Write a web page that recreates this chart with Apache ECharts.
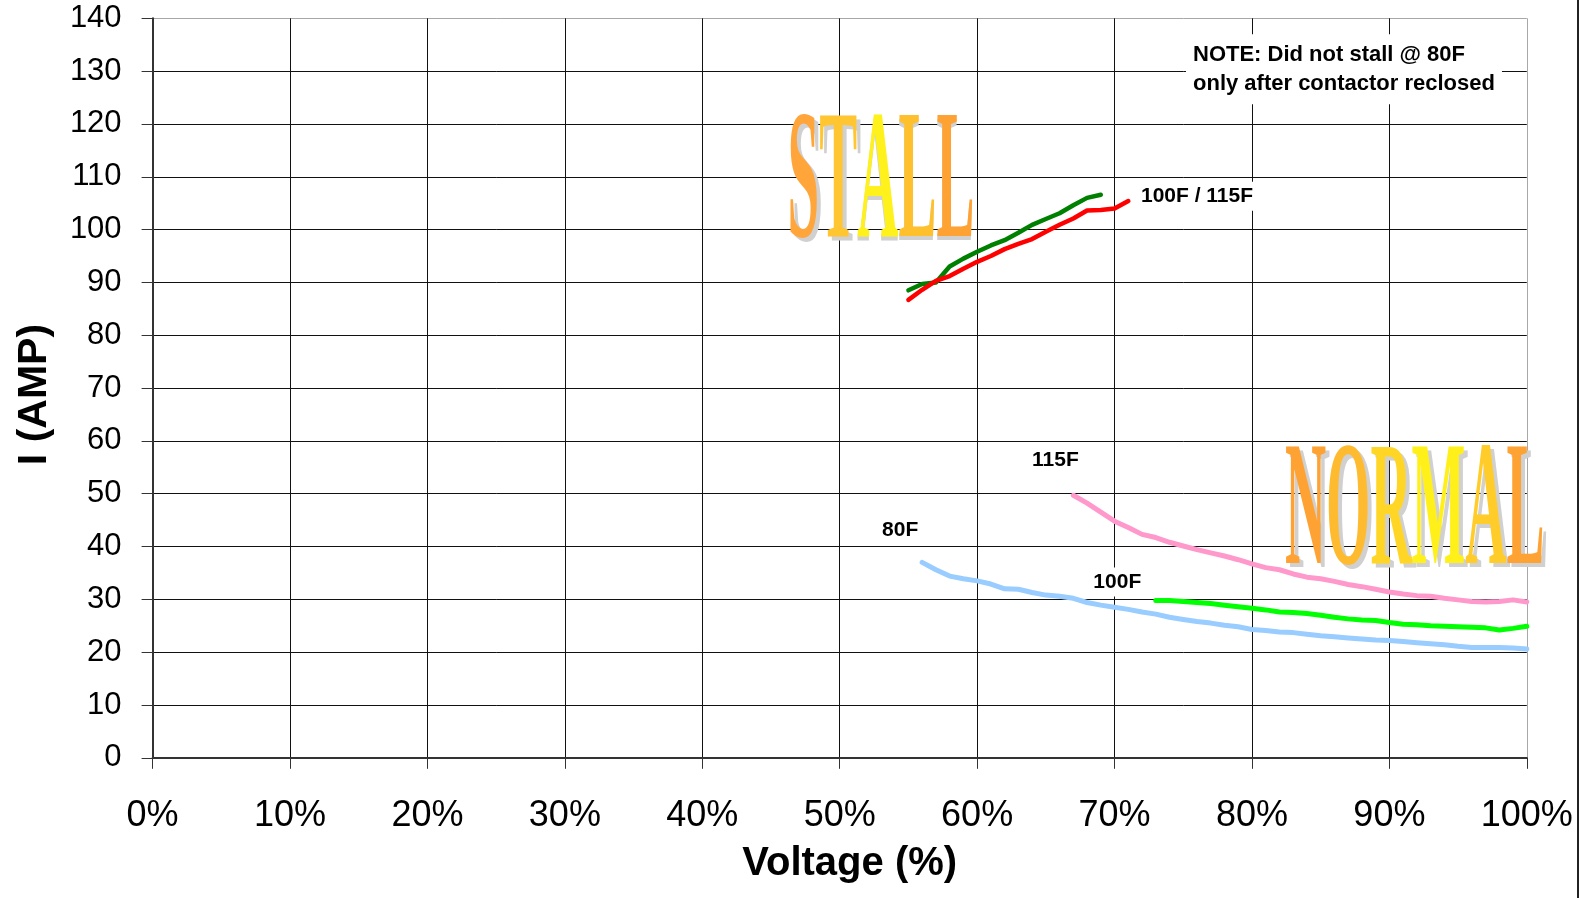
<!DOCTYPE html>
<html>
<head>
<meta charset="utf-8">
<script src="https://cdn.jsdelivr.net/npm/echarts@6/dist/echarts.min.js"></script>
<style>
  html, body { margin: 0; background: #fff; }
  #chart { width: 1595px; height: 898px; }
</style>
</head>
<body>
<div id="chart"></div>
<script>
// stall curves (voltage %, current A)
const stall100Volts = [55, 56, 57, 58, 59, 60, 61, 62, 63, 64, 65, 66, 67, 68, 69];
const stall100Amps = [88.5, 89.7, 90.0, 93.0, 94.5, 95.8, 97.0, 98.0, 99.4, 100.9, 102.0, 103.1, 104.6, 106.0, 106.6];

const stall115Volts = [55, 56, 57, 58, 59, 60, 61, 62, 63, 64, 65, 66, 67, 68, 69, 70, 71];
const stall115Amps = [86.7, 88.6, 90.3, 91.2, 92.6, 93.9, 95.0, 96.3, 97.3, 98.2, 99.6, 100.9, 102.1, 103.6, 103.7, 104.0, 105.4];

// normal running curves
const normal115Volts = [67, 68, 69, 70, 71, 72, 73, 74, 75, 76, 77, 78, 79, 80, 81, 82, 83, 84, 85, 86, 87, 88, 89, 90, 91, 92, 93, 94, 95, 96, 97, 98, 99, 100];
const normal115Amps = [49.7, 48.2, 46.5, 44.8, 43.6, 42.3, 41.7, 40.8, 40.1, 39.4, 38.8, 38.2, 37.5, 36.7, 36.0, 35.6, 34.8, 34.2, 33.9, 33.4, 32.8, 32.4, 31.9, 31.4, 31.0, 30.7, 30.6, 30.2, 29.9, 29.6, 29.5, 29.6, 29.9, 29.5];

const normal100Volts = [73, 74, 75, 76, 77, 78, 79, 80, 81, 82, 83, 84, 85, 86, 87, 88, 89, 90, 91, 92, 93, 94, 95, 96, 97, 98, 99, 100];
const normal100Amps = [29.8, 29.8, 29.6, 29.4, 29.2, 28.9, 28.6, 28.3, 28.0, 27.6, 27.5, 27.3, 27.0, 26.6, 26.3, 26.1, 26.0, 25.6, 25.3, 25.2, 25.0, 24.9, 24.8, 24.7, 24.6, 24.2, 24.5, 24.9];

const normal80Volts = [56, 57, 58, 59, 60, 61, 62, 63, 64, 65, 66, 67, 68, 69, 70, 71, 72, 73, 74, 75, 76, 77, 78, 79, 80, 81, 82, 83, 84, 85, 86, 87, 88, 89, 90, 91, 92, 93, 94, 95, 96, 97, 98, 99, 100];
const normal80Amps = [37.0, 35.6, 34.4, 33.9, 33.5, 32.9, 32.0, 31.9, 31.3, 30.8, 30.6, 30.2, 29.4, 28.9, 28.5, 28.1, 27.6, 27.2, 26.6, 26.2, 25.8, 25.5, 25.1, 24.8, 24.3, 24.1, 23.8, 23.7, 23.4, 23.1, 22.9, 22.7, 22.5, 22.3, 22.2, 22.0, 21.8, 21.6, 21.4, 21.1, 20.9, 20.9, 20.9, 20.8, 20.6];

const noteLines = ['NOTE: Did not stall @ 80F', 'only after contactor reclosed'];

// word-art letter colours (orange edges, yellow middle)
const stallColors = ['#ffa53a', '#ffc632', '#fff21c', '#ffc02e', '#ffa234'];
const normalColors = ['#ffa234', '#ffbb30', '#ffd626', '#fff01a', '#ffcc2a', '#ffa234'];

function pairs(xs, ys) {
  return xs.map((x, i) => [x, ys[i]]);
}

function lineSeries(name, xs, ys, color, width) {
  return {
    name,
    type: 'line',
    data: pairs(xs, ys),
    showSymbol: false,
    symbol: 'none',
    lineStyle: { color, width, join: 'round', cap: 'round' },
    z: 5,
  };
}

// grid colours: black inside, grey on the frame edge
const yGridColors = Array(14).fill('#111').concat(['#a8a8a8']);
const xGridColors = Array(10).fill('#111').concat(['#a8a8a8']);

const option = {
  animation: false,
  backgroundColor: '#fff',
  grid: { left: 152.6, right: 68.2, top: 18.3, bottom: 140.2 },
  xAxis: {
    type: 'value',
    min: 0,
    max: 100,
    interval: 10,
    name: 'Voltage (%)',
    nameLocation: 'middle',
    nameGap: 86,
    nameTextStyle: {
      fontFamily: "'Liberation Sans', Arial",
      fontWeight: 'bold',
      fontSize: 40,
      color: '#000',
      padding: [0, 0, 0, 20],
    },
    axisLine: { lineStyle: { color: '#333', width: 2 } },
    axisTick: { length: 11, lineStyle: { color: '#333', width: 1 } },
    axisLabel: {
      formatter: '{value}%',
      margin: 40,
      fontSize: 36,
      color: '#000',
      fontFamily: "'Liberation Sans', Arial",
    },
    splitLine: { show: true, lineStyle: { color: xGridColors, width: 1 } },
  },
  yAxis: {
    type: 'value',
    min: 0,
    max: 140,
    interval: 10,
    name: 'I (AMP)',
    nameLocation: 'middle',
    nameGap: 97,
    nameTextStyle: {
      fontFamily: "'Liberation Sans', Arial",
      fontWeight: 'bold',
      fontSize: 41,
      color: '#000',
      padding: [0, 13, 0, 0],
    },
    axisLine: { show: true, lineStyle: { color: '#333', width: 2 } },
    axisTick: { show: true, length: 11, lineStyle: { color: '#333', width: 1 } },
    axisLabel: { margin: 31, fontSize: 31, color: '#000', fontFamily: "'Liberation Sans', Arial" },
    splitLine: { show: true, lineStyle: { color: yGridColors, width: 1 } },
  },
  series: [
    lineSeries('Stall 100F', stall100Volts, stall100Amps, '#008000', 4.5),
    lineSeries('Stall 115F', stall115Volts, stall115Amps, '#ff0000', 4.5),
    lineSeries('Normal 115F', normal115Volts, normal115Amps, '#ff99cc', 5),
    lineSeries('Normal 100F', normal100Volts, normal100Amps, '#00ff00', 5),
    lineSeries('Normal 80F', normal80Volts, normal80Amps, '#99ccff', 5),
  ],
};

const chart = echarts.init(document.getElementById('chart'));
chart.setOption(option);

// annotations are anchored in data space
function px(x, y) {
  return chart.convertToPixel({ gridIndex: 0 }, [x, y]);
}

function tag(text, x, y) {
  const p = px(x, y);
  return {
    type: 'text',
    x: p[0],
    y: p[1],
    z: 20,
    style: {
      text,
      fill: '#000',
      font: 'bold 21px "Liberation Sans", Arial',
      align: 'center',
      verticalAlign: 'middle',
      backgroundColor: '#fff',
      padding: [4, 8],
    },
  };
}

function wordArt(word, colors, x, y, fontSize, scaleX) {
  const p = px(x, y);
  const font = 'bold ' + fontSize + 'px "Liberation Serif", "DejaVu Serif", serif';
  const rich = {};
  let text = '';
  word.split('').forEach((ch, i) => {
    rich['c' + i] = { fill: colors[i], font };
    text += '{c' + i + '|' + ch + '}';
  });
  return [
    {
      type: 'text', x: p[0] + 4, y: p[1] + 4, scaleX, z: 10,
      style: { text: word, font, fill: '#d0d0d0', align: 'left', verticalAlign: 'middle' },
    },
    {
      type: 'text', x: p[0], y: p[1], scaleX, z: 11,
      style: { text, rich, font, fill: colors[0], align: 'left', verticalAlign: 'middle' },
    },
  ];
}

const notePos = px(75.2, 137.0);

chart.setOption({
  graphic: [
    ...wordArt('STALL', stallColors, 46.2, 107.8, 184, 0.31),
    ...wordArt('NORMAL', normalColors, 82.4, 45.6, 178, 0.32),
    tag('80F', 54.4, 43.1),
    tag('115F', 65.7, 56.4),
    tag('100F', 70.2, 33.3),
    tag('100F / 115F', 76.0, 106.3),
    {
      type: 'text',
      x: notePos[0],
      y: notePos[1],
      z: 20,
      style: {
        text: noteLines.join('\n'),
        fill: '#000',
        font: 'bold 22px "Liberation Sans", Arial',
        lineHeight: 29,
        align: 'left',
        backgroundColor: '#fff',
        padding: [6, 7],
      },
    },
    {
      type: 'line',
      z: 1,
      shape: { x1: 1578, y1: 0, x2: 1578, y2: 898 },
      style: { stroke: '#222', lineWidth: 2 },
    },
  ],
});
</script>
</body>
</html>
